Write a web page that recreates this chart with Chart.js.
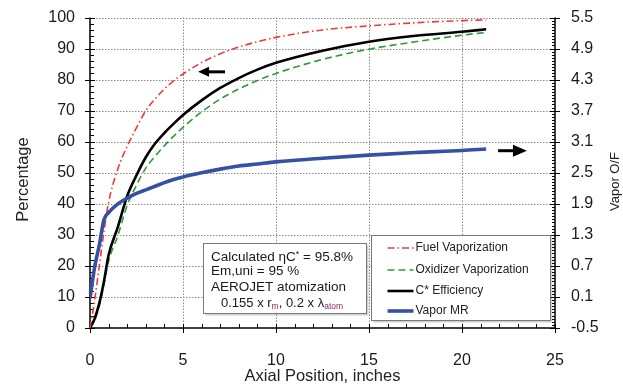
<!DOCTYPE html>
<html>
<head>
<meta charset="utf-8">
<script src="https://cdn.jsdelivr.net/npm/chart.js@4/dist/chart.umd.min.js"></script>
<style>
  html, body { margin: 0; padding: 0; background: #fff; }
  #wrap { width: 623px; height: 387px; }
</style>
</head>
<body>
<div id="wrap"><canvas id="c" width="623" height="387"></canvas></div>
<script>
// Axial stations (inches) shared by all series
const axialPosition = [0, 0.25, 0.5, 0.75, 1.0, 1.5, 2.0, 2.5, 3.0, 3.5, 4.0, 4.5, 5.0, 6.0, 7.0, 8.0, 9.0, 10, 12.5, 15, 17.5, 20, 21.3];

// Percentages (left axis)
const fuelVaporization     = [0, 9, 20, 31, 40.5, 51.3, 58.5, 64.5, 70.0, 73.8, 77.0, 79.6, 81.8, 85.5, 88.3, 90.5, 92.2, 93.6, 96.0, 97.3, 98.3, 99.0, 99.2];
const oxidizerVaporization = [0, 2.5, 7, 14, 21.5, 29.8, 39.5, 46.0, 51.5, 55.3, 58.7, 61.8, 64.6, 69.6, 73.7, 77.0, 79.7, 82.0, 86.5, 89.8, 92.2, 94.3, 95.2];
const cStarEfficiency      = [0, 3, 8, 15, 23.5, 32.6, 42.5, 49.2, 55.0, 59.4, 62.8, 65.8, 68.6, 73.3, 77.3, 80.5, 83.2, 85.4, 89.3, 92.2, 94.1, 95.4, 96.2];

// Vapor mixture ratio O/F (right axis)
const vaporMR = [0.07, 0.68, 1.10, 1.59, 1.73, 1.90, 2.01, 2.10, 2.17, 2.24, 2.31, 2.37, 2.42, 2.50, 2.57, 2.63, 2.67, 2.71, 2.78, 2.84, 2.89, 2.93, 2.96];

// Tick labels
const xTicks = [0, 5, 10, 15, 20, 25];
const percentTicks = [0, 10, 20, 30, 40, 50, 60, 70, 80, 90, 100];
const ofTicks = [-0.5, 0.1, 0.7, 1.3, 1.9, 2.5, 3.1, 3.7, 4.3, 4.9, 5.5];

const FONT = "'Liberation Sans', Arial, sans-serif";
const PLOT_TOP = 17.5;
const pts = arr => arr.map((v, i) => ({ x: axialPosition[i], y: v }));
const setTicks = list => scale => { scale.ticks = list.map(v => ({ value: v })); };
// invisible tick marks only push the labels away from the axis line
const labelGap = len => ({ display: true, drawOnChartArea: false, drawTicks: true, tickLength: len, tickColor: 'rgba(0,0,0,0)' });

// Grid, axis lines, tick marks, titles, annotation box, legend and arrows
const framePlugin = {
  id: 'frame',
  beforeDatasetsDraw(chart) {
    const { ctx, chartArea: a, scales: { x, y, y1 } } = chart;
    ctx.save();
    // dotted grid
    ctx.strokeStyle = '#8c8c8c';
    ctx.lineWidth = 1;
    ctx.setLineDash([1.5, 1.5]);
    ctx.beginPath();
    xTicks.forEach(v => {
      if (v <= 0 || v >= 25) return;
      const px = Math.round(x.getPixelForValue(v)) + 0.5;
      ctx.moveTo(px, a.top); ctx.lineTo(px, a.bottom);
    });
    percentTicks.forEach(v => {
      if (v <= 0) return;
      const py = Math.round(y.getPixelForValue(v)) + 0.5;
      ctx.moveTo(a.left, py); ctx.lineTo(a.right, py);
    });
    ctx.stroke();
    ctx.setLineDash([]);

    // axis lines
    ctx.strokeStyle = '#000';
    ctx.lineWidth = 1.5;
    ctx.beginPath();
    ctx.moveTo(a.left, a.top); ctx.lineTo(a.left, a.bottom); ctx.lineTo(a.right, a.bottom); ctx.lineTo(a.right, a.top);
    ctx.stroke();

    // tick marks
    ctx.lineWidth = 1;
    ctx.beginPath();
    for (let v = 0; v <= 100; v += 2) {
      const py = Math.round(y.getPixelForValue(v)) + 0.5;
      if (v % 10 === 0) { ctx.moveTo(a.left - 5, py); ctx.lineTo(a.left + 5, py); }
      else { ctx.moveTo(a.left, py); ctx.lineTo(a.left + 4, py); }
    }
    for (let v = 0; v <= 25; v += 1) {
      const px = Math.round(x.getPixelForValue(v)) + 0.5;
      if (v % 5 === 0) { ctx.moveTo(px, a.bottom - 4); ctx.lineTo(px, a.bottom + 5); }
      else { ctx.moveTo(px, a.bottom); ctx.lineTo(px, a.bottom - 4); }
    }
    for (let i = 0; i <= 100; i++) {
      const v = -0.5 + i * 0.06;
      const py = Math.round(y1.getPixelForValue(v)) + 0.5;
      if (i % 10 === 0) { ctx.moveTo(a.right - 5, py); ctx.lineTo(a.right + 5, py); }
      else { ctx.moveTo(a.right, py); ctx.lineTo(a.right - 3, py); }
    }
    ctx.stroke();

    // axis titles
    ctx.fillStyle = '#222';
    ctx.textAlign = 'center';
    ctx.textBaseline = 'middle';
    ctx.font = `16.5px ${FONT}`;
    ctx.fillText('Axial Position, inches', (a.left + a.right) / 2, 376);
    ctx.save();
    ctx.translate(23, 179.5);
    ctx.rotate(-Math.PI / 2);
    ctx.fillText('Percentage', 0, 0);
    ctx.restore();
    ctx.save();
    ctx.font = `13px ${FONT}`;
    ctx.translate(615.5, 181.5);
    ctx.rotate(-Math.PI / 2);
    ctx.fillText('Vapor O/F', 0, 0);
    ctx.restore();
    ctx.restore();
  },
  afterDatasetsDraw(chart) {
    const { ctx, scales: { x, y } } = chart;
    ctx.save();

    const box = (x0, x1, p0, p1) => {
      const l = Math.round(x.getPixelForValue(x0)) + 0.5, r = Math.round(x.getPixelForValue(x1)) + 0.5;
      const t = Math.round(y.getPixelForValue(p0)) + 0.5, b = Math.round(y.getPixelForValue(p1)) + 0.5;
      ctx.fillStyle = 'rgba(0,0,0,0.18)';
      ctx.fillRect(l + 2, t + 2, r - l, b - t);
      ctx.fillStyle = '#fff';
      ctx.fillRect(l, t, r - l, b - t);
      ctx.strokeStyle = '#7a7a7a';
      ctx.lineWidth = 1;
      ctx.strokeRect(l, t, r - l, b - t);
      return { l, r, t, b };
    };

    // annotation box
    const tb = box(6.06, 14.82, 27.4, 4.8);
    const runs = (xs, yc, parts) => {
      let cx = xs;
      ctx.textAlign = 'left';
      ctx.textBaseline = 'middle';
      parts.forEach(p => {
        ctx.font = `${p.size || 13.5}px ${FONT}`;
        ctx.fillStyle = p.color || '#1a1a1a';
        ctx.fillText(p.t, cx, yc + (p.dy || 0));
        cx += ctx.measureText(p.t).width;
      });
    };
    const tx = tb.l + 7.5;
    runs(tx, tb.t + 14, [{ t: 'Calculated ' }, { t: 'η' }, { t: 'C' }, { t: '*', size: 9, dy: -3 }, { t: ' = 95.8%' }]);
    runs(tx, tb.t + 28, [{ t: 'Em,uni = 95 %' }]);
    runs(tx, tb.t + 44, [{ t: 'AEROJET atomization' }]);
    runs(tx + 10, tb.t + 60, [{ t: '0.155 x r', size: 13 }, { t: 'm', size: 8.5, dy: 3, color: '#8a3068' }, { t: ', 0.2 x λ', size: 13 }, { t: 'atom', size: 8.5, dy: 3, color: '#8a3068' }]);

    // legend box
    const lg = box(15.1, 24.73, 29.95, 2.6);
    const entries = [0, 1, 2, 3];
    const rowOffsets = [12, 34, 55, 75];
    entries.forEach((di, k) => {
      const ds = chart.data.datasets[di];
      const yy = Math.round(lg.t + rowOffsets[k]);
      ctx.strokeStyle = ds.borderColor;
      ctx.lineWidth = ds.borderWidth;
      ctx.setLineDash(ds.borderDash || []);
      ctx.beginPath();
      ctx.moveTo(lg.l + 16, yy); ctx.lineTo(lg.l + 42, yy);
      ctx.stroke();
      ctx.setLineDash([]);
      ctx.font = `12px ${FONT}`;
      ctx.fillStyle = '#222';
      ctx.textAlign = 'left';
      ctx.textBaseline = 'middle';
      ctx.fillText(ds.label, lg.l + 44, yy);
    });

    // arrows pointing at each curve's axis
    const arrow = (xa, xb, p, dir, head, half) => {
      const ya = y.getPixelForValue(p);
      const pa = x.getPixelForValue(xa), pb = x.getPixelForValue(xb);
      const tip = dir < 0 ? pa : pb, tail = dir < 0 ? pb : pa;
      ctx.strokeStyle = '#000';
      ctx.fillStyle = '#000';
      ctx.lineWidth = 3;
      ctx.beginPath();
      ctx.moveTo(tail, ya); ctx.lineTo(tip - dir * head * 0.8, ya);
      ctx.stroke();
      ctx.beginPath();
      ctx.moveTo(tip, ya);
      ctx.lineTo(tip - dir * head, ya - half);
      ctx.lineTo(tip - dir * head, ya + half);
      ctx.closePath();
      ctx.fill();
    };
    arrow(5.81, 7.26, 82.5, -1, 11, 5);
    arrow(21.94, 23.49, 57.1, 1, 14, 6);
    ctx.restore();
  }
};

const chart = new Chart(document.getElementById('c'), {
  type: 'line',
  data: {
    datasets: [
      { label: 'Fuel Vaporization', data: pts(fuelVaporization), yAxisID: 'y', borderColor: '#f03a3a', borderWidth: 1.6, borderDash: [7, 3, 1.5, 3], order: 1 },
      { label: 'Oxidizer Vaporization', data: pts(oxidizerVaporization), yAxisID: 'y', borderColor: '#2e9a3c', borderWidth: 1.6, borderDash: [7, 4], order: 3 },
      { label: 'C* Efficiency', data: pts(cStarEfficiency), yAxisID: 'y', borderColor: '#000000', borderWidth: 2.6, order: 2 },
      { label: 'Vapor MR', data: pts(vaporMR), yAxisID: 'y1', borderColor: '#3551a4', borderWidth: 3.6, order: 0 }
    ]
  },
  options: {
    responsive: false,
    animation: false,
    devicePixelRatio: 1,
    layout: { padding: { top: PLOT_TOP, left: 0, right: 0, bottom: 0 } },
    elements: {
      point: { radius: 0, hoverRadius: 0 },
      line: { cubicInterpolationMode: 'monotone', fill: false, borderCapStyle: 'butt' }
    },
    plugins: { legend: { display: false }, tooltip: { enabled: false } },
    scales: {
      x: {
        type: 'linear', min: 0, max: 25,
        afterBuildTicks: setTicks(xTicks),
        afterFit: s => { s.height = 59; },
        grid: { display: false }, border: { display: false },
        ticks: { padding: 15, autoSkip: false, maxRotation: 0, color: '#1a1a1a', font: { family: FONT, size: 16 }, callback: v => String(v) }
      },
      y: {
        type: 'linear', position: 'left', min: 0, max: 100,
        afterBuildTicks: setTicks(percentTicks),
        afterFit: s => { s.width = 90; },
        grid: labelGap(15), border: { display: false },
        ticks: { padding: 0, autoSkip: false, color: '#1a1a1a', font: { family: FONT, size: 16 }, callback: v => String(v) }
      },
      y1: {
        type: 'linear', position: 'right', min: -0.5, max: 5.5,
        afterBuildTicks: setTicks(ofTicks),
        afterFit: s => { s.width = 68; },
        grid: labelGap(16), border: { display: false },
        ticks: { padding: 0, autoSkip: false, color: '#1a1a1a', font: { family: FONT, size: 16 }, callback: v => Number(v).toFixed(1) }
      }
    }
  },
  plugins: [framePlugin]
});

// keep the plot area's top edge where the 100 % line belongs
const drift = chart.chartArea.top - PLOT_TOP;
if (Math.abs(drift) > 0.25) {
  chart.options.layout.padding.top = PLOT_TOP - drift;
  chart.update();
}
</script>
</body>
</html>
